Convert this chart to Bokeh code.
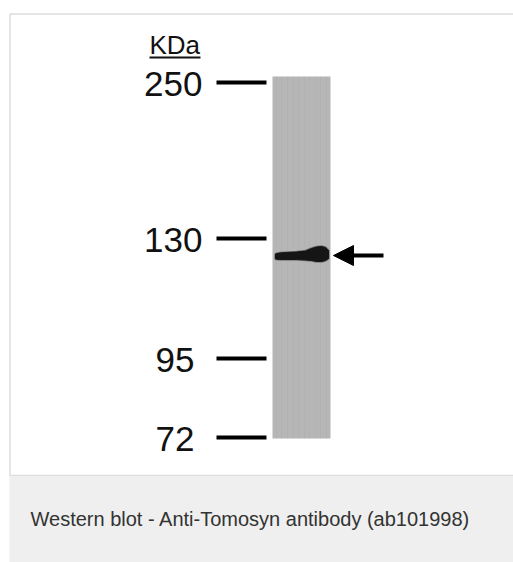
from bokeh.plotting import figure
from bokeh.models import Range1d, Arrow, NormalHead, ColumnDataSource
from bokeh.core.properties import value
from bokeh.embed import file_html
from bokeh.resources import INLINE

# ---- data ----
marker_labels = ["250", "130", "95", "72"]
marker_kda = [250, 130, 95, 72]
marker_pos = [82, 238, 358, 437]          # migration position of each marker (px down the blot)
label_right = [202, 202, 194, 194]        # right edge of each label
unit_label = "KDa"
caption = "Western blot - Anti-Tomosyn antibody (ab101998)"

lane_left, lane_right = 272, 330
lane_top, lane_bottom = 76, 438

band_x = [275, 279, 286, 296, 305, 311, 316, 321, 325, 328]
band_top = [253.5, 252.5, 252, 251.5, 250.5, 248, 246.5, 246, 247, 250]
band_bottom = [258.5, 259, 259, 259, 259.5, 260, 261, 261, 260, 258]
band_pos = 255

FONT = value("Liberation Sans")
W, H = 513, 562

p = figure(width=W, height=H, output_backend="svg", toolbar_location=None,
           x_range=Range1d(0, W), y_range=Range1d(H, 0),
           min_border=0)
p.axis.visible = False
p.grid.visible = False
p.outline_line_color = None
p.background_fill_color = "white"
p.border_fill_color = "white"

# frame and caption panel
p.quad(left=[9.5], right=[520], top=[13.5], bottom=[475], fill_color="white",
       line_color="#dddddd", line_width=1.5)
p.quad(left=[9], right=[520], top=[475.5], bottom=[570], fill_color="#eeefee",
       line_color=None)
p.text(x=[30], y=[518], text=[caption], text_font=FONT, text_font_size="20px",
       text_color="#333333", text_baseline="middle", text_align="left")

# lane
p.quad(left=[lane_left], right=[lane_right], top=[lane_top], bottom=[lane_bottom],
       fill_color="#b6b6b6", line_color=None)
# subtle vertical streaks of the membrane
streak_x = [276, 281, 287, 293, 298, 304, 309, 315, 320, 326]
p.segment(x0=streak_x, y0=[lane_top] * len(streak_x), x1=streak_x,
          y1=[lane_bottom] * len(streak_x), line_color="#adadad", line_width=1, line_alpha=0.4)

# band
xs = band_x + band_x[::-1]
ys = band_top + band_bottom[::-1]
p.patch(x=xs, y=ys, fill_color="#555555", line_color="#555555", line_width=2.5, alpha=0.6)
p.patch(x=xs, y=ys, fill_color="#151515", line_color="#151515", line_width=1)

# marker ticks and labels
src = ColumnDataSource(dict(label=marker_labels, kda=marker_kda, pos=marker_pos, xr=label_right))
p.segment(x0=216, x1=266, y0="pos", y1="pos", source=src, line_color="black", line_width=4)
p.text(x="xr", y="pos", text="label", source=src, text_font=FONT, text_font_size="35px",
       text_color="#111111", text_align="right", text_baseline="middle", y_offset=1)

# unit label with underline
p.text(x=[149], y=[44], text=[unit_label], text_font=FONT, text_font_size="26px",
       text_color="#111111", text_align="left", text_baseline="middle")
p.segment(x0=[149], x1=[200], y0=[57], y1=[57], line_color="#111111", line_width=2)

# arrow pointing at the band
p.add_layout(Arrow(end=NormalHead(size=20, fill_color="black", line_color="black"),
                   x_start=383, y_start=band_pos, x_end=333, y_end=band_pos,
                   line_width=4, line_color="black"))

open("out.html", "w").write(file_html(p, INLINE))
